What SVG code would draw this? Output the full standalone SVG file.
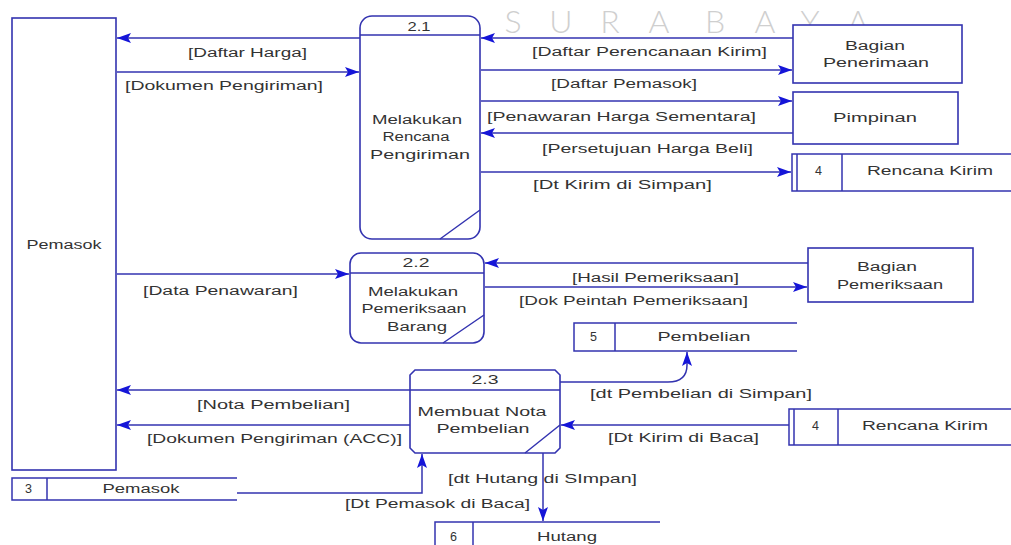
<svg xmlns="http://www.w3.org/2000/svg" width="1011" height="545" viewBox="0 0 1011 545">
<style>
.bg{fill:#ffffff}
.shape{fill:#ffffff;stroke:#3333b0;stroke-width:1.6}
.ln{fill:none;stroke:#3333b0;stroke-width:1.5}
.flow{fill:none;stroke:#3333b0;stroke-width:1.5;marker-end:url(#arr)}
.t{font-family:"Liberation Sans",Arial,sans-serif;font-size:12.5px;fill:#333333}
.c{text-anchor:middle}
.wm{font-family:Lato,"Open Sans",sans-serif;font-weight:300;font-size:32px;fill:#cfcfcf;text-anchor:middle}
</style>
<defs>
<marker id="arr" markerWidth="16" markerHeight="12" refX="15" refY="6" orient="auto" markerUnits="userSpaceOnUse">
<path d="M15,6 L1,1 L4,6 L1,11 Z" fill="#1515d8"/>
</marker>
</defs>
<rect class="bg" x="0" y="0" width="1011" height="545"/>
<g id="watermark">
<text class="wm" x="513" y="33">S</text>
<text class="wm" x="561" y="33">U</text>
<text class="wm" x="610" y="33">R</text>
<text class="wm" x="659" y="33">A</text>
<text class="wm" x="715" y="33">B</text>
<text class="wm" x="765" y="33">A</text>
<text class="wm" x="810" y="33">Y</text>
<text class="wm" x="858" y="33">A</text>
</g>
<g id="connectors">
<path class="flow" d="M360,38 H117"/>
<path class="flow" d="M117,72 H359"/>
<path class="flow" d="M793,38 H481"/>
<path class="flow" d="M481,70 H792"/>
<path class="flow" d="M481,101 H792"/>
<path class="flow" d="M793,133 H481"/>
<path class="flow" d="M481,172 H791"/>
<path class="flow" d="M117,274 H349"/>
<path class="flow" d="M808,263 H485"/>
<path class="flow" d="M485,287 H807"/>
<path class="flow" d="M410,390 H117"/>
<path class="flow" d="M410,425 H117"/>
<path class="flow" d="M560,382 H668 Q687,382 687,365 V352"/>
<path class="flow" d="M789,425 H561"/>
<path class="flow" d="M543,453 V521"/>
<path class="flow" d="M237,493 H422 V454"/>
<text class="t" x="188" y="57" textLength="119" lengthAdjust="spacingAndGlyphs">[Daftar Harga]</text>
<text class="t" x="125" y="90" textLength="198" lengthAdjust="spacingAndGlyphs">[Dokumen Pengiriman]</text>
<text class="t" x="532" y="56" textLength="235" lengthAdjust="spacingAndGlyphs">[Daftar Perencanaan Kirim]</text>
<text class="t" x="551" y="88" textLength="146" lengthAdjust="spacingAndGlyphs">[Daftar Pemasok]</text>
<text class="t" x="487" y="121" textLength="269" lengthAdjust="spacingAndGlyphs">[Penawaran Harga Sementara]</text>
<text class="t" x="542" y="153" textLength="211" lengthAdjust="spacingAndGlyphs">[Persetujuan Harga Beli]</text>
<text class="t" x="533" y="189" textLength="179" lengthAdjust="spacingAndGlyphs">[Dt Kirim di Simpan]</text>
<text class="t" x="143" y="295" textLength="155" lengthAdjust="spacingAndGlyphs">[Data Penawaran]</text>
<text class="t" x="572" y="282" textLength="167" lengthAdjust="spacingAndGlyphs">[Hasil Pemeriksaan]</text>
<text class="t" x="519" y="305" textLength="229" lengthAdjust="spacingAndGlyphs">[Dok Peintah Pemeriksaan]</text>
<text class="t" x="197" y="409" textLength="153" lengthAdjust="spacingAndGlyphs">[Nota Pembelian]</text>
<text class="t" x="147" y="443" textLength="255" lengthAdjust="spacingAndGlyphs">[Dokumen Pengiriman (ACC)]</text>
<text class="t" x="590" y="398" textLength="222" lengthAdjust="spacingAndGlyphs">[dt Pembelian di Simpan]</text>
<text class="t" x="608" y="442" textLength="151" lengthAdjust="spacingAndGlyphs">[Dt Kirim di Baca]</text>
<text class="t" x="448" y="483" textLength="189" lengthAdjust="spacingAndGlyphs">[dt Hutang di SImpan]</text>
<text class="t" x="345" y="508" textLength="185" lengthAdjust="spacingAndGlyphs">[Dt Pemasok di Baca]</text>
</g>
<g id="entity-pemasok">
<rect class="shape" x="12" y="18" width="104" height="452"/>
<text class="t c" x="64" y="249" textLength="75" lengthAdjust="spacingAndGlyphs">Pemasok</text>
</g>
<g id="process-2-1">
<rect class="shape" x="360" y="16" width="120" height="223" rx="12" ry="12"/>
<path class="ln" d="M360,35 H480 M440,239 L480,210"/>
<text class="t c" x="419" y="31" textLength="23" lengthAdjust="spacingAndGlyphs">2.1</text>
<text class="t c" x="417" y="124" textLength="90" lengthAdjust="spacingAndGlyphs">Melakukan</text>
<text class="t c" x="416" y="141" textLength="67" lengthAdjust="spacingAndGlyphs">Rencana</text>
<text class="t c" x="420" y="159" textLength="100" lengthAdjust="spacingAndGlyphs">Pengiriman</text>
</g>
<g id="entity-bagian-penerimaan">
<rect class="shape" x="793" y="25" width="169" height="58"/>
<text class="t c" x="875" y="50" textLength="60" lengthAdjust="spacingAndGlyphs">Bagian</text>
<text class="t c" x="876" y="67" textLength="106" lengthAdjust="spacingAndGlyphs">Penerimaan</text>
</g>
<g id="entity-pimpinan">
<rect class="shape" x="793" y="92" width="165" height="52"/>
<text class="t c" x="875" y="122" textLength="84" lengthAdjust="spacingAndGlyphs">Pimpinan</text>
</g>
<g id="store-rencana-kirim-1">
<path class="ln" d="M1012,154 H792 V191 H1012 M797,154 V191 M842,154 V191"/>
<text class="t" x="815" y="175">4</text>
<text class="t c" x="930" y="175" textLength="126" lengthAdjust="spacingAndGlyphs">Rencana Kirim</text>
</g>
<g id="process-2-2">
<rect class="shape" x="350" y="253" width="134" height="90" rx="11" ry="11"/>
<path class="ln" d="M350,273 H484 M443,343 L484,315"/>
<text class="t c" x="416" y="267" textLength="27" lengthAdjust="spacingAndGlyphs">2.2</text>
<text class="t c" x="413" y="296" textLength="90" lengthAdjust="spacingAndGlyphs">Melakukan</text>
<text class="t c" x="414" y="313" textLength="105" lengthAdjust="spacingAndGlyphs">Pemeriksaan</text>
<text class="t c" x="417" y="331" textLength="60" lengthAdjust="spacingAndGlyphs">Barang</text>
</g>
<g id="entity-bagian-pemeriksaan">
<rect class="shape" x="808" y="248" width="165" height="54"/>
<text class="t c" x="887" y="271" textLength="60" lengthAdjust="spacingAndGlyphs">Bagian</text>
<text class="t c" x="890" y="289" textLength="106" lengthAdjust="spacingAndGlyphs">Pemeriksaan</text>
</g>
<g id="store-pembelian">
<path class="ln" d="M797,323 H574 V351 H797 M615,323 V351"/>
<text class="t" x="590" y="341">5</text>
<text class="t c" x="704" y="341" textLength="93" lengthAdjust="spacingAndGlyphs">Pembelian</text>
</g>
<g id="process-2-3">
<path class="shape" d="M415,370 H555 L560,375 V448 L555,453 H415 L410,448 V375 Z"/>
<path class="ln" d="M410,390 H560 M525,453 L560,425"/>
<text class="t c" x="485" y="384" textLength="27" lengthAdjust="spacingAndGlyphs">2.3</text>
<text class="t c" x="482" y="416" textLength="129" lengthAdjust="spacingAndGlyphs">Membuat Nota</text>
<text class="t c" x="483" y="433" textLength="93" lengthAdjust="spacingAndGlyphs">Pembelian</text>
</g>
<g id="store-rencana-kirim-2">
<path class="ln" d="M1012,409 H789 V445 H1012 M794,409 V445 M838,409 V445"/>
<text class="t" x="812" y="430">4</text>
<text class="t c" x="925" y="430" textLength="126" lengthAdjust="spacingAndGlyphs">Rencana Kirim</text>
</g>
<g id="store-pemasok">
<path class="ln" d="M237,478 H12 V500 H237 M47,478 V500"/>
<text class="t" x="25" y="493">3</text>
<text class="t c" x="141" y="493" textLength="77" lengthAdjust="spacingAndGlyphs">Pemasok</text>
</g>
<g id="store-hutang">
<path class="ln" d="M660,522 H435 V550 M473,522 V550"/>
<text class="t" x="450" y="541">6</text>
<text class="t c" x="567" y="541" textLength="60" lengthAdjust="spacingAndGlyphs">Hutang</text>
</g>
</svg>
